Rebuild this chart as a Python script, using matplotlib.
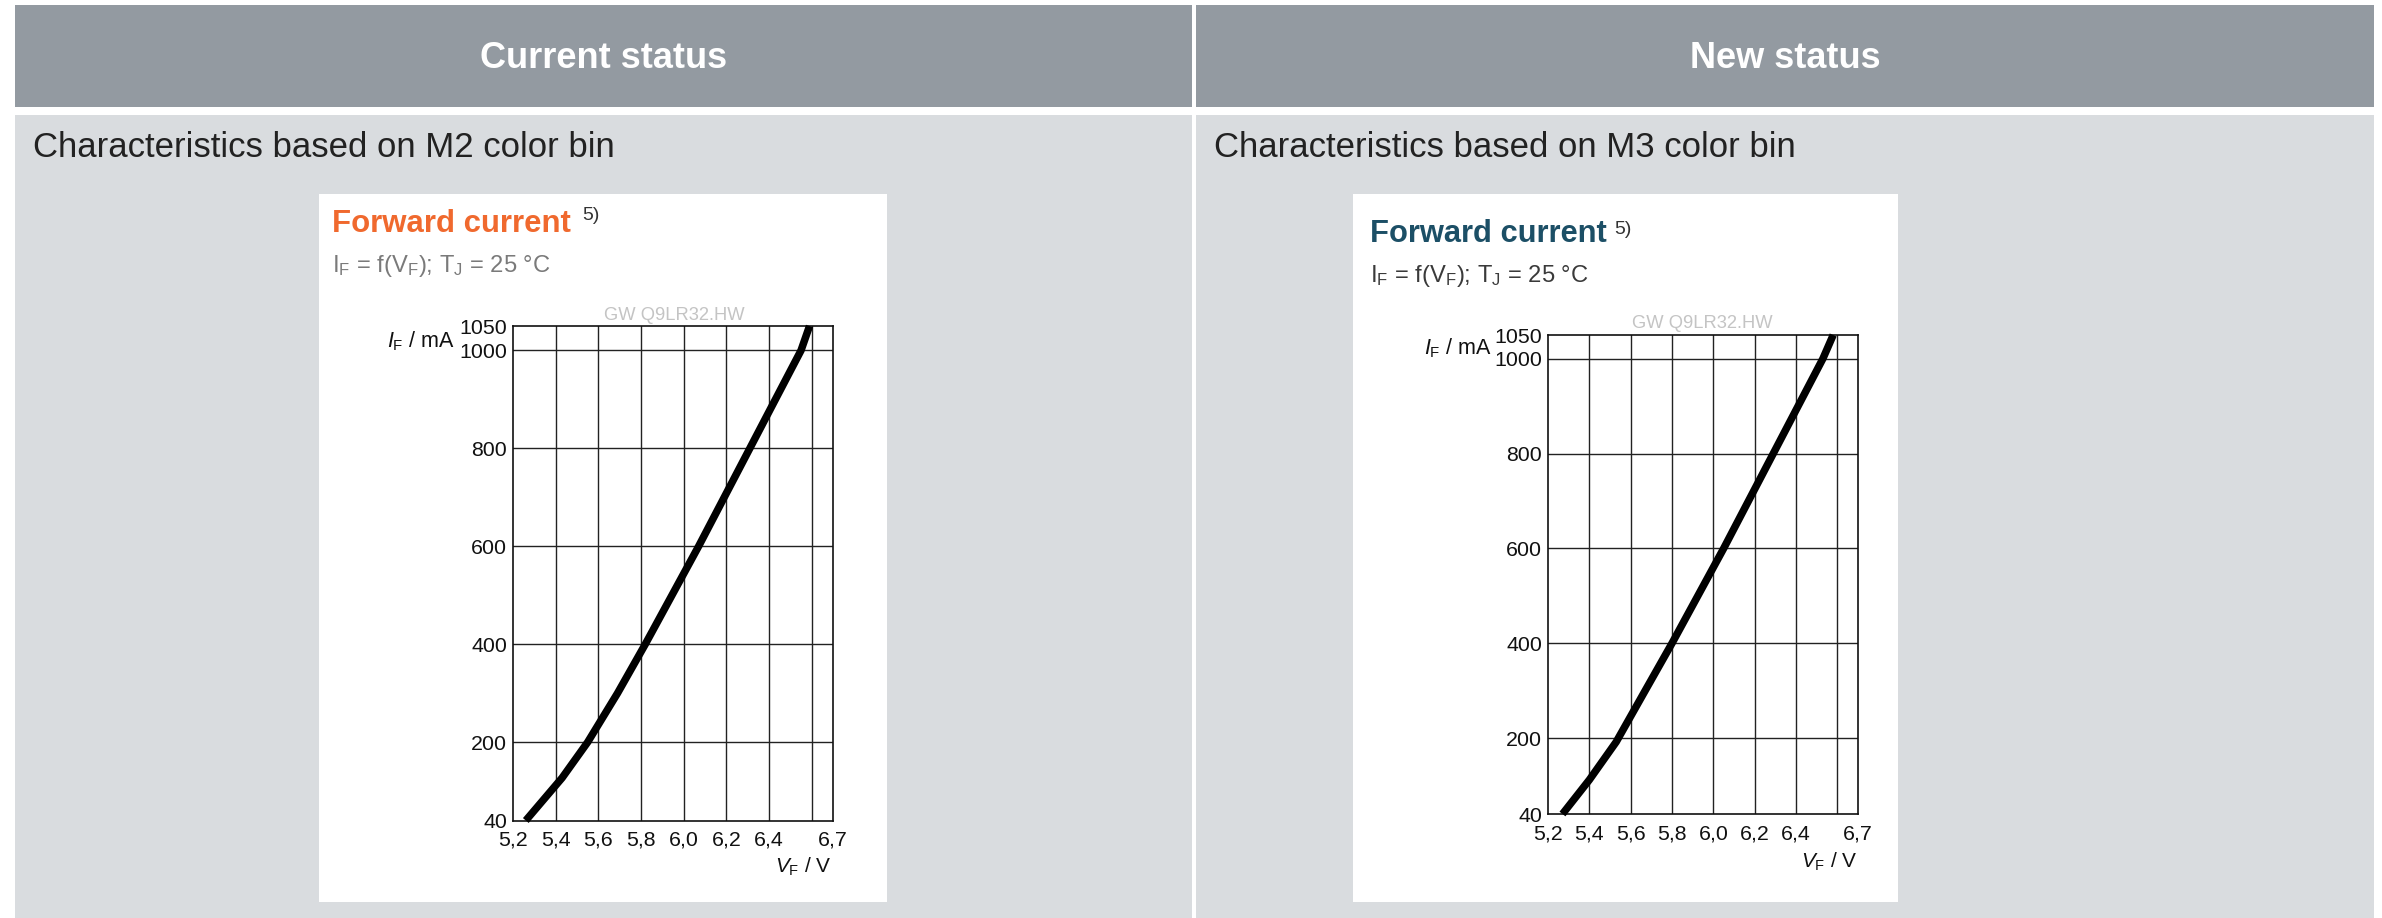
import matplotlib
matplotlib.use("Agg")
import matplotlib.pyplot as plt
from matplotlib.patches import Rectangle

plt.rcParams['font.family'] = ['Liberation Sans', 'DejaVu Sans']
plt.rcParams['mathtext.fontset'] = 'custom'
plt.rcParams['mathtext.rm'] = 'Liberation Sans'
plt.rcParams['mathtext.it'] = 'Liberation Sans:italic'
plt.rcParams['mathtext.bf'] = 'Liberation Sans:bold'

# ---- data -------------------------------------------------------------
column_titles = ["Current status", "New status"]
column_notes = ["Characteristics based on M2 color bin",
                "Characteristics based on M3 color bin"]

# forward voltage (V) vs forward current (mA), M2 bin
vf_m2 = [5.26, 5.43, 5.55, 5.69, 5.82, 6.07, 6.31, 6.55, 6.59]
if_m2 = [40, 127, 200, 300, 400, 600, 800, 1000, 1050]

# forward voltage (V) vs forward current (mA), M3 bin
vf_m3 = [5.27, 5.40, 5.53, 5.67, 5.80, 6.05, 6.29, 6.53, 6.58]
if_m3 = [40, 112, 192, 300, 400, 600, 800, 1000, 1050]

x_ticks = [5.2, 5.4, 5.6, 5.8, 6.0, 6.2, 6.4, 6.7]
x_tick_labels = ["5,2", "5,4", "5,6", "5,8", "6,0", "6,2", "6,4", "6,7"]
y_ticks = [40, 200, 400, 600, 800, 1000, 1050]
y_tick_labels = ["40", "200", "400", "600", "800", "1000", "1050"]
x_grid = [5.4, 5.6, 5.8, 6.0, 6.2, 6.4, 6.6]
y_grid = [200, 400, 600, 800, 1000]

# ---- layout (pixels) --------------------------------------------------
W, H = 2382, 918
fig = plt.figure(figsize=(W / 100, H / 100), dpi=100)
fig.patch.set_facecolor("white")

bg = fig.add_axes([0, 0, 1, 1])
bg.set_xlim(0, W)
bg.set_ylim(H, 0)
bg.axis("off")

HEAD = "#939aa1"
BODY = "#d9dcdf"
cols = [(15, 1192), (1196, 2374)]
for (x0, x1), title, note in zip(cols, column_titles, column_notes):
    bg.add_patch(Rectangle((x0, 5), x1 - x0, 102, color=HEAD, lw=0))
    bg.add_patch(Rectangle((x0, 115), x1 - x0, H - 115, color=BODY, lw=0))
    bg.text((x0 + x1) / 2, 59, title, color="white", fontsize=26,
            fontweight="bold", ha="center", va="center")
    bg.text(x0 + 18, 157, note, color="#222222", fontsize=25,
            ha="left", va="baseline")

panels = [
    dict(box=(319, 194, 887, 902), ax=(513, 326, 833, 820.5),
         title_xy=(332, 232), title_fs=22.4, title_color="#f0692e",
         sup_xy=(582, 220), sub_xy=(332, 272), sub_fs=17.1, sub_color="#7a7a7a",
         code_xy=(745, 320), ylab_xy=(455, 341), xlab_xy=(832, 867),
         xpad=7.0, vf=vf_m2, i_f=if_m2),
    dict(box=(1353, 194, 1898, 902), ax=(1548, 335, 1858, 814),
         title_xy=(1370, 242), title_fs=22.2, title_color="#1c4f66",
         sup_xy=(1614, 234), sub_xy=(1370, 282), sub_fs=17.1, sub_color="#3a3a3a",
         code_xy=(1773, 328), ylab_xy=(1492, 348), xlab_xy=(1858, 862),
         xpad=7.8, vf=vf_m3, i_f=if_m3),
]

for p in panels:
    bx0, by0, bx1, by1 = p["box"]
    bg.add_patch(Rectangle((bx0, by0), bx1 - bx0, by1 - by0, color="white", lw=0))
    bg.text(*p["title_xy"], "Forward current", color=p["title_color"],
            fontsize=p["title_fs"], fontweight="bold", ha="left", va="baseline")
    bg.text(*p["sup_xy"], "5)", color="#333333", fontsize=14,
            ha="left", va="baseline")
    bg.text(*p["sub_xy"],
            r"I$_\mathregular{F}$ = f(V$_\mathregular{F}$); T$_\mathregular{J}$ = 25 °C",
            color=p["sub_color"], fontsize=p["sub_fs"], ha="left", va="baseline")
    bg.text(*p["code_xy"], "GW Q9LR32.HW", color="#c4c4c4", fontsize=13.2,
            ha="right", va="baseline")
    bg.text(*p["ylab_xy"], r"$I_\mathregular{F}$ / mA", color="#111111",
            fontsize=15.5, ha="right", va="center")
    bg.text(*p["xlab_xy"], r"$V_\mathregular{F}$ / V", color="#111111",
            fontsize=15, ha="right", va="center")

    ax0, ay0, ax1, ay1 = p["ax"]
    ax = fig.add_axes([ax0 / W, 1 - ay1 / H, (ax1 - ax0) / W, (ay1 - ay0) / H])
    ax.set_facecolor("white")
    ax.set_xlim(5.2, 6.7)
    ax.set_ylim(40, 1050)
    for v in x_grid:
        ax.axvline(v, color="#222222", lw=1.0, zorder=1)
    for v in y_grid:
        ax.axhline(v, color="#222222", lw=1.0, zorder=1)
    ax.plot(p["vf"], p["i_f"], color="black", lw=5.4, zorder=3,
            solid_capstyle="butt", solid_joinstyle="round", clip_on=False)
    ax.set_xticks(x_ticks)
    ax.set_xticklabels(x_tick_labels)
    ax.set_yticks(y_ticks)
    ax.set_yticklabels(y_tick_labels)
    ax.tick_params(axis="x", length=0, pad=p["xpad"], labelsize=15.4, colors="#111111")
    ax.tick_params(axis="y", length=0, pad=4.3, labelsize=15.4, colors="#111111")
    for s in ax.spines.values():
        s.set_color("#111111")
        s.set_linewidth(1.2)

fig.savefig("out.png", dpi=100, facecolor="white")
